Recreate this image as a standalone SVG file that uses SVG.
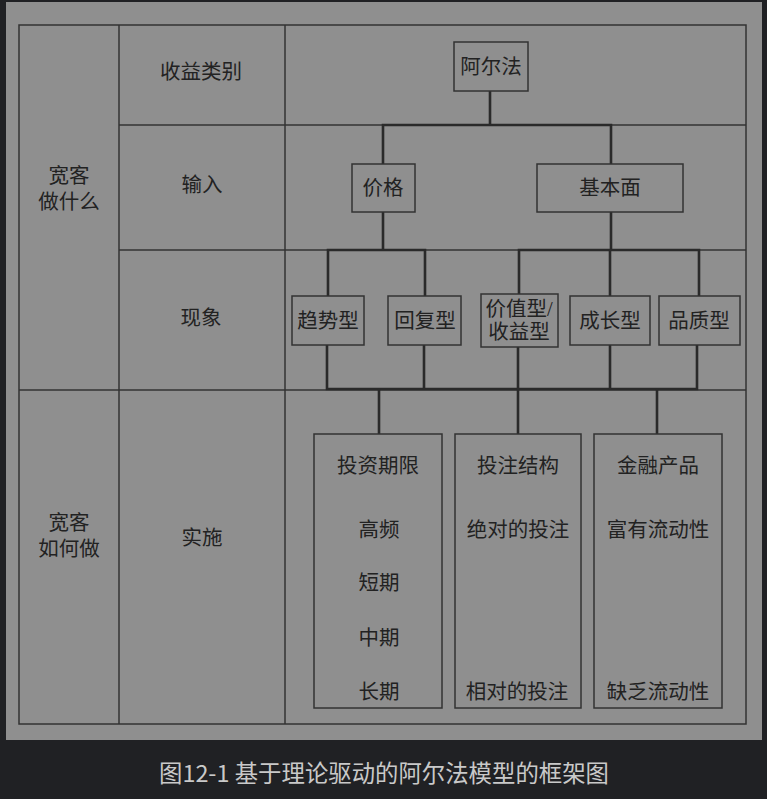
<svg xmlns="http://www.w3.org/2000/svg" width="767" height="799" viewBox="0 0 767 799">
<style>
.t{font-family:"Liberation Serif","Noto Sans CJK SC",serif;font-size:20.5px;fill:#222;text-anchor:middle}
.grid{stroke:#333;stroke-width:1.5;fill:none}
.box{fill:#8f8f8f;stroke:#333;stroke-width:1.5}
.con{stroke:#2a2a2a;stroke-width:2.6;fill:none}
.cap{font-family:"Noto Sans CJK SC","Noto Sans",sans-serif;font-size:23.4px;fill:#c9c9c9;text-anchor:middle}
</style>
<rect x="0" y="0" width="767" height="799" fill="#202124"/>
<rect x="6" y="2" width="756" height="738" fill="#8f8f8f"/>
<g id="table">
<rect class="grid" x="19" y="25" width="727" height="699"/>
<line class="grid" x1="119" y1="25" x2="119" y2="724"/>
<line class="grid" x1="285" y1="25" x2="285" y2="724"/>
<line class="grid" x1="119" y1="125" x2="746" y2="125"/>
<line class="grid" x1="119" y1="250" x2="746" y2="250"/>
<line class="grid" x1="19" y1="390" x2="746" y2="390"/>
<text class="t" x="69" y="183">宽客</text>
<text class="t" x="69" y="209">做什么</text>
<text class="t" x="69" y="530">宽客</text>
<text class="t" x="69" y="556">如何做</text>
<text class="t" x="201" y="79">收益类别</text>
<text class="t" x="202" y="192">输入</text>
<text class="t" x="201" y="325">现象</text>
<text class="t" x="202" y="545">实施</text>
</g>
<g id="connectors">
<polyline class="con" points="490,91 490,125"/>
<polyline class="con" points="383,164 383,125 611,125 611,164"/>
<polyline class="con" points="383,212 383,250"/>
<polyline class="con" points="611,212 611,250"/>
<polyline class="con" points="328,296 328,250 425,250 425,296"/>
<polyline class="con" points="519,294 519,250 699,250 699,296"/>
<line class="con" x1="610" y1="250" x2="610" y2="296"/>
<polyline class="con" points="327,345 327,389 697,389 697,345"/>
<line class="con" x1="424" y1="345" x2="424" y2="389"/>
<line class="con" x1="518" y1="347" x2="518" y2="389"/>
<line class="con" x1="610" y1="345" x2="610" y2="389"/>
<line class="con" x1="379" y1="389" x2="379" y2="434"/>
<line class="con" x1="518" y1="389" x2="518" y2="434"/>
<line class="con" x1="657" y1="389" x2="657" y2="434"/>
</g>
<g id="n-alpha"><rect class="box" x="454" y="42" width="74" height="49"/><text class="t" x="491" y="74">阿尔法</text></g>
<g id="n-price"><rect class="box" x="352" y="164" width="63" height="48"/><text class="t" x="383" y="195">价格</text></g>
<g id="n-fund"><rect class="box" x="537" y="164" width="146" height="48"/><text class="t" x="610" y="195">基本面</text></g>
<g id="n-trend"><rect class="box" x="292" y="296" width="72" height="49"/><text class="t" x="328" y="328">趋势型</text></g>
<g id="n-revert"><rect class="box" x="388" y="296" width="73" height="49"/><text class="t" x="425" y="328">回复型</text></g>
<g id="n-value"><rect class="box" x="481" y="294" width="77" height="53"/><text class="t" x="519" y="316">价值型/</text><text class="t" x="519" y="339">收益型</text></g>
<g id="n-growth"><rect class="box" x="570" y="296" width="80" height="49"/><text class="t" x="610" y="328">成长型</text></g>
<g id="n-quality"><rect class="box" x="659" y="296" width="81" height="49"/><text class="t" x="699" y="328">品质型</text></g>
<g id="n-horizon"><rect class="box" x="314" y="434" width="128" height="274"/>
<text class="t" x="378" y="473">投资期限</text>
<text class="t" x="379" y="537">高频</text>
<text class="t" x="379" y="590">短期</text>
<text class="t" x="379" y="645">中期</text>
<text class="t" x="379" y="699">长期</text></g>
<g id="n-bet"><rect class="box" x="455" y="434" width="126" height="274"/>
<text class="t" x="518" y="473">投注结构</text>
<text class="t" x="518" y="537">绝对的投注</text>
<text class="t" x="517" y="699">相对的投注</text></g>
<g id="n-product"><rect class="box" x="594" y="434" width="128" height="274"/>
<text class="t" x="658" y="473">金融产品</text>
<text class="t" x="658" y="537">富有流动性</text>
<text class="t" x="658" y="699">缺乏流动性</text></g>
<text class="cap" x="384" y="782">图12-1 基于理论驱动的阿尔法模型的框架图</text>
</svg>
